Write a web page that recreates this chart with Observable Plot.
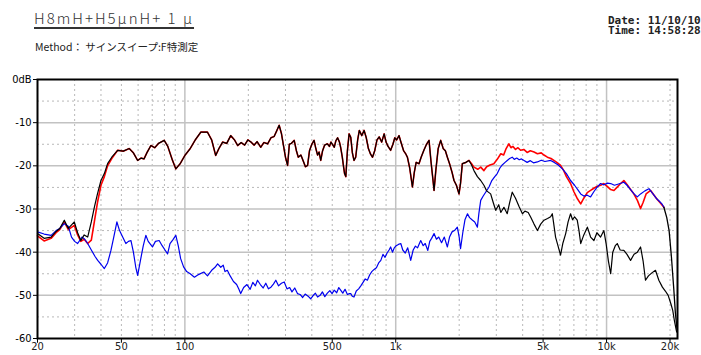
<!DOCTYPE html>
<html><head><meta charset="utf-8">
<script src="https://cdn.jsdelivr.net/npm/d3@7"></script>
<script src="https://cdn.jsdelivr.net/npm/@observablehq/plot@0.6"></script>
<style>
html,body{margin:0;padding:0;background:#fff;width:701px;height:355px;overflow:hidden;}
#head{position:relative;height:62px;width:701px;}
#title{position:absolute;left:34px;top:7px;font-family:"Noto Sans CJK JP",sans-serif;font-size:15px;font-weight:300;color:#333;text-decoration:underline;text-decoration-thickness:1.5px;text-underline-offset:3px;letter-spacing:2px;white-space:nowrap;}
#method{position:absolute;left:35px;top:39px;font-family:"Noto Sans CJK JP",sans-serif;font-size:10.5px;color:#222;white-space:nowrap;}
#date{position:absolute;left:608px;top:16px;font-family:"DejaVu Sans Mono",monospace;font-size:11px;line-height:10px;font-weight:bold;color:#222;white-space:pre;}
#chart{position:absolute;left:0;top:62px;}
svg text{font-family:"Liberation Sans Narrow","DejaVu Sans Condensed",sans-serif;}
</style></head>
<body>
<div id="head">
<div id="title">H8mH+H5μnH+ 1 μ</div>
<div id="method">Method： サインスイープ:F特測定</div>
<div id="date">Date: 11/10/10
Time: 14:58:28</div>
</div>
<div id="chart"></div>
<script>
// ---- tick labels ----
const xTickValues = [20, 50, 100, 500, 1000, 5000, 10000, 20000];
const xTickLabels = ["20", "50", "100", "500", "1k", "5k", "10k", "20k"];
const yTickValues = [0, -10, -20, -30, -40, -50, -60];
const yTickLabels = ["0dB", "-10", "-20", "-30", "-40", "-50", "-60"];
const xMajorGrid = [100, 1000, 10000];
const xMinorGrid = [30, 40, 50, 60, 70, 80, 90, 200, 300, 400, 500, 600, 700, 800, 900, 2000, 3000, 4000, 5000, 6000, 7000, 8000, 9000, 20000];
const yMajorGrid = [-10, -20, -30, -40, -50];
const yMinorGrid = [-5, -15, -25, -35, -45, -55];

// ---- black series (woofer) ----
const blackFreq = [20,21.5,23.2,24.5,25.5,26.8,28,29.9,31,32.1,33.3,34.6,36,37.2,38.5,40,41.5,43,45,48,51,54.5,57,59.7,62,64,66,69,72,75,79.8,83,87,90.6,95,100,106,112,119,128,134,140,145,151,158,165,172,178,185,192,199,206,213,220,229,237,247,256,265,272,280,287,294,300,307,313,320,330,338,345,355,365,373,382,390,400,410,418,426,433,441,450,460,474,485,493,502,511,520,530,541,548,558,565,572,580,590,601,612,623,634,646,660,672,690,708,725,742,760,776,795,815,835,858,881,900,920,946,970,990,1010,1037,1060,1090,1115,1136,1165,1200,1225,1250,1290,1320,1360,1400,1439,1470,1500,1520,1550,1590,1634,1680,1720,1758,1800,1850,1890,1940,1996,2030,2070,2150,2226,2290,2350,2440,2530,2620,2700,2820,2900,2980,3080,3150,3260,3380,3470,3570,3700,3850,3990,4100,4250,4370,4530,4700,4870,5050,5250,5430,5530,5600,5730,5880,6050,6200,6400,6570,6750,6900,7050,7260,7400,7540,7800,8110,8400,8710,9000,9370,9710,9950,10200,10460,10700,11000,11240,11600,12080,12500,13000,13500,14000,14500,14900,15300,15800,16400,17060,17700,18400,19000,19600,20200,20600,21000,21500];
const blackDb = [-35.7,-36.8,-36.5,-35.2,-34.5,-32.6,-34.5,-33,-35.5,-37.3,-36,-36.5,-33,-29.6,-26.5,-23.4,-21.8,-19.5,-18,-16.4,-16.6,-16,-17,-18.75,-18.2,-18.4,-17,-15.3,-15.8,-14.8,-14.1,-15.5,-18.5,-20.7,-19.5,-17.6,-16,-14,-12.2,-12.2,-14,-17.6,-16,-14.5,-14.8,-13,-14,-15.3,-14.6,-15.2,-14,-14.5,-15.2,-14.4,-15.7,-14.6,-14.9,-13.5,-13.2,-12,-10.6,-12.5,-15.5,-18,-19.9,-15,-14.8,-14.1,-16.5,-18,-17.5,-19,-20.2,-19.9,-16.5,-15,-14.1,-16,-17.5,-16.8,-18.75,-16.5,-15.2,-14.9,-15.5,-14.5,-15.1,-15.7,-14.2,-13.5,-14.5,-15.7,-18,-20,-21.8,-22.5,-16.5,-12.6,-13.4,-17,-18.75,-18,-14,-11.8,-13,-11.8,-13.5,-16,-17.3,-18,-16.5,-14,-13.3,-14.5,-12.6,-14.5,-15.5,-16.4,-15,-13.5,-14,-13,-14.6,-16.5,-17.2,-18,-20.5,-24.9,-21.5,-19.2,-19.5,-18,-16.4,-15,-14.1,-19,-23,-25.7,-21,-16,-14.1,-16,-16.5,-18,-19.5,-21.5,-23.4,-24.5,-26.5,-24,-19.5,-19.2,-18.75,-19.8,-21.1,-22.5,-23.4,-24.5,-25.8,-26.5,-28.5,-30.3,-29,-30.8,-29.6,-31.1,-28.5,-26.1,-27.5,-29.5,-31.1,-30.5,-30.8,-31.9,-33.5,-35,-33.5,-32.6,-32.2,-31.8,-31.1,-33,-36.5,-38.5,-40.7,-38,-35.7,-33,-31.1,-32.5,-31.8,-32.6,-35,-38,-36,-34.2,-36.5,-37.3,-35.5,-36.5,-35,-38,-42,-45,-40,-38.5,-38,-39.5,-39.6,-40.5,-41.9,-40.5,-40,-38.8,-42,-46.5,-45.5,-44.8,-44.2,-46.5,-48.1,-49,-50,-52,-53.5,-56,-58.5];

// ---- red series (sum): low end, shared middle, high end ----
const redLowFreq = [20,21.5,23.2,24.5,25.5,26.8,28,29.9,31,32.1,33.3,34.6,36,37.2,38.5,40,41.5,43,45];
const redLowDb = [-36.2,-37.4,-36.8,-35.5,-34.8,-33,-34.8,-33.8,-36,-37.5,-37,-38,-37.2,-33,-28.5,-24.5,-22.5,-20,-18.3];
const redHighFreq = [2290,2350,2450,2530,2620,2700,2800,2920,3030,3150,3250,3340,3440,3520,3600,3700,3800,3910,4050,4200,4350,4530,4700,4900,5050,5240,5450,5650,5850,6050,6250,6450,6750,7000,7250,7540,7800,8100,8400,8700,9000,9370,9710,10100,10460,10840,11200,11600,12080,12500,13000,13470,14000,14500,14900,15400,16180,16800,17400,18000,18700];
const redHighDb = [-19.5,-20.3,-20.8,-20.3,-21.1,-20.2,-19.8,-19.5,-18.5,-17.2,-17.5,-16,-14.9,-15.8,-15.5,-16.2,-15.8,-16.4,-16.2,-16.9,-16.5,-16.8,-17.2,-17,-17.5,-18,-18.3,-18.8,-19.3,-19.9,-21,-22.5,-24.1,-26,-27.5,-28.8,-27.5,-26.2,-25.7,-25.2,-24.8,-24.5,-24.1,-24.8,-25.5,-25.7,-25,-24.2,-23.4,-24.3,-25.5,-26.5,-28,-29.9,-28.5,-26.5,-25.7,-26.8,-27.8,-28.6,-29.6];

// ---- blue series (tweeter) ----
const blueFreq = [20,21.5,23.2,24.5,25.5,26.8,28,29,30,31,32.5,33.5,34.6,36,37.5,38.6,40,41.5,43,44.6,46,47.6,49,50.7,52.5,54,55.5,57,58.5,59.7,61.5,63.5,65.3,67,70.2,72.5,75.5,78,80.5,82.8,85,87.5,90.6,93,95.5,98.6,102,106,111,116,123,128,134,139,143,148,152,155,159,164,170,176,180,184,190,197,204,210,216,221,228,235,242,249,256,263,270,278,287,296,305,314,322,332,342,352,362,372,384,395,405,416,426,438,449,461,474,487,499,511,525,537,548,561,575,590,603,612,622,634,650,667,683,700,717,734,752,770,790,810,830,850,870,890,910,930,946,965,985,1005,1030,1057,1080,1110,1140,1160,1178,1210,1240,1270,1300,1314,1350,1380,1420,1450,1480,1520,1560,1600,1650,1700,1758,1800,1850,1900,1960,2000,2030,2080,2130,2190,2240,2300,2370,2440,2480,2530,2600,2680,2770,2850,2950,3030,3120,3200,3300,3380,3470,3570,3650,3750,3850,3950,4060,4200,4350,4500,4700,4900,5100,5430,5650,5900,6170,6450,6750,7050,7300,7540,7800,8100,8400,8700,9000,9370,9710,10100,10460,10900,11400,12080,12500,13000,13500,13990,14500,15200,15890,16500,17200,17800,18300,18700];
const blueDb = [-35.3,-35.8,-36.1,-35,-34.5,-33.4,-34,-36.5,-37.5,-38,-36.5,-37,-38,-39.5,-41,-41.9,-42.8,-43.8,-42.5,-39.6,-36.5,-33,-35,-36.5,-38,-37.5,-37.3,-40,-43.5,-45.4,-42,-38.5,-36.1,-37.5,-38.8,-37.5,-37.3,-38.5,-39.5,-40.4,-38,-37.2,-36.1,-38.5,-41.5,-43.4,-44.5,-45,-45.8,-45.2,-44.6,-45.5,-44.2,-43.5,-42.7,-43.5,-43,-44.5,-44.2,-45.5,-46.8,-47.5,-48.5,-49.6,-48.2,-47.5,-48.6,-47,-47.8,-46.5,-47.5,-48.3,-47.2,-48.5,-48.1,-47.4,-46.5,-47.8,-47.2,-46.9,-48.5,-48.2,-49.2,-48.3,-49.6,-49.8,-50.5,-49.7,-50.2,-50.8,-50.1,-49.5,-50.4,-50,-49.2,-50.3,-49.5,-48.9,-49.6,-48.8,-49.4,-48.2,-48.8,-49.5,-48.6,-49.8,-49.6,-49.6,-50.2,-50.4,-49,-48.5,-47.8,-47,-46.2,-46.5,-45.3,-44.5,-44,-43.6,-42.5,-41.9,-40.5,-41.2,-40.2,-39.5,-38.8,-40,-39,-38.5,-38.2,-38,-39.5,-40.2,-39,-40.5,-41.9,-39.5,-38.6,-39,-37.8,-37.3,-38.5,-38,-39.6,-37.5,-36.8,-35.7,-37,-36.5,-37.8,-36.5,-38.8,-36.5,-35.3,-35,-34.2,-36.5,-39.2,-35.5,-32.5,-31.1,-32,-32.5,-33,-34.2,-31,-28,-27,-26,-24.9,-23.5,-22.5,-21.8,-20.5,-19.8,-19.2,-18.75,-18.3,-18,-18.5,-18.2,-18.6,-18.4,-18.75,-19.2,-18.8,-19.3,-19.1,-18.7,-19,-18.75,-19.2,-19.8,-20.7,-21.8,-23.4,-24.5,-25.5,-26.5,-27,-26.8,-27.2,-26,-25,-24.1,-24.4,-24,-24.1,-24.5,-24.2,-23.8,-24.5,-25.5,-26.5,-27.2,-26.5,-25.8,-25.3,-26.3,-27.5,-28.2,-28.8,-29.6];

// ---- steep high-frequency roll-off drawn in black ----
const tailFreq = [18700,19300,19800,20300,20800,21200,21600];
const tailDb = [-29.6,-32,-35,-41,-48,-54,-58];

// build tables
const zip = (f, v) => f.map((x, i) => ({f: x, db: v[i]}));
const black = zip(blackFreq, blackDb);
const red = [
  ...zip(redLowFreq, redLowDb),
  ...black.filter(d => d.f > 45 && d.f <= 2226),
  ...zip(redHighFreq, redHighDb)
];
const blue = zip(blueFreq, blueDb);
const tail = zip(tailFreq, tailDb);
const xTicks = xTickValues.map((v, i) => ({v, label: xTickLabels[i]}));
const yLabel = new Map(yTickValues.map((v, i) => [v, yTickLabels[i]]));

const chart = Plot.plot({
  width: 701,
  height: 293,
  marginLeft: 37,
  marginRight: 24,
  marginTop: 17,
  marginBottom: 17,
  style: {background: "white", fontSize: "11px"},
  x: {type: "log", domain: [20, 21700], axis: null},
  y: {domain: [-60, 0]},
  marks: [
    Plot.ruleY(yMinorGrid, {stroke: "#b8b8b8", strokeDasharray: "2,3", strokeWidth: 1}),
    Plot.ruleX(xMinorGrid, {stroke: "#b8b8b8", strokeDasharray: "2,3", strokeWidth: 1}),
    Plot.ruleY(yMajorGrid, {stroke: "#c2c2c2", strokeWidth: 1.5}),
    Plot.ruleX(xMajorGrid, {stroke: "#c2c2c2", strokeWidth: 1.5}),
    Plot.line(red, {x: "f", y: "db", stroke: "#ff0000", strokeWidth: 1.6}),
    Plot.line(blue, {x: "f", y: "db", stroke: "#0000ee", strokeWidth: 1.2}),
    Plot.line(black, {x: "f", y: "db", stroke: "#000", strokeWidth: 1.2}),
    Plot.line(tail, {x: "f", y: "db", stroke: "#000", strokeWidth: 1.3}),
    Plot.frame({stroke: "#000", strokeWidth: 2}),
    Plot.ruleX(xTickValues, {x: d => d, y1: -60, y2: -61.1, stroke: "#000", strokeWidth: 1}),
    Plot.text(xTicks, {x: "v", text: "label", frameAnchor: "bottom", dy: 11, fontSize: 11, fill: "#222"}),
    Plot.axisY({ticks: yTickValues, tickFormat: d => yLabel.get(d), tickSize: 4, tickPadding: 2, fontSize: 11, label: null})
  ]
});
document.getElementById("chart").appendChild(chart);
</script>
</body></html>
